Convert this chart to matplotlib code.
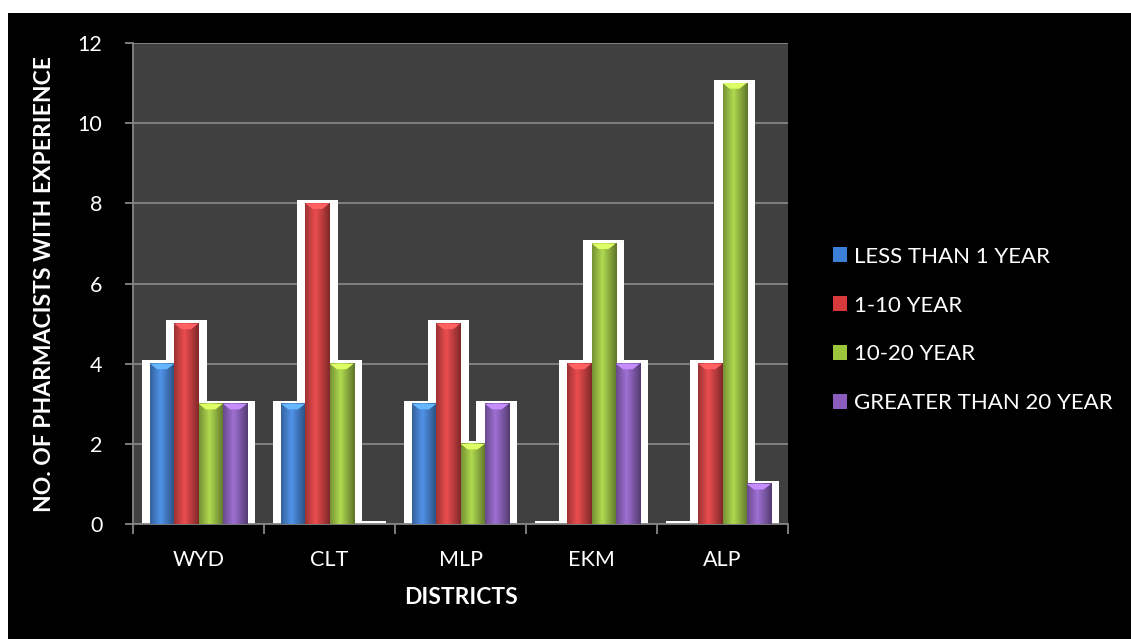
import numpy as np
import matplotlib
matplotlib.use("Agg")
import matplotlib.pyplot as plt
from matplotlib.patches import Rectangle, Polygon, Patch
from matplotlib.colors import to_rgb

districts = ["WYD", "CLT", "MLP", "EKM", "ALP"]
groups = ["LESS THAN 1 YEAR", "1-10 YEAR", "10-20 YEAR", "GREATER THAN 20 YEAR"]
less_than_1 = [4, 3, 3, 0, 0]
one_to_10 = [5, 8, 5, 4, 4]
ten_to_20 = [3, 4, 2, 7, 11]
above_20 = [3, 0, 3, 4, 1]
series = [less_than_1, one_to_10, ten_to_20, above_20]
colors = ["#3c7fd6", "#d8393b", "#9cc63c", "#8a5cbf"]

plt.rcParams["font.family"] = ["Lato", "DejaVu Sans"]

fig = plt.figure(figsize=(11.31, 6.39), dpi=100, facecolor="white")
# black panel with a thin white margin on top and left
fig.add_artist(Rectangle((8 / 1131, 0), 1, 1 - 13 / 639, transform=fig.transFigure,
                         facecolor="black", edgecolor="none", zorder=-10))

ax = fig.add_axes([133 / 1131, 1 - 524 / 639, (788 - 133) / 1131, (524 - 43) / 639])
ax.set_facecolor("#404040")

w = 0.185
pad_x = 0.065
pad_y = 0.08


def bar_image(color, n=64):
    base = np.array(to_rgb(color))
    t = np.linspace(0, 1, n)
    light = 1 - 0.45 * np.abs(t - 0.42) / 0.58
    rgb = base[None, :] * light[:, None] + 0.08 * (1 - np.abs(t - 0.42))[:, None]
    return np.clip(rgb, 0, 1)[None, :, :]


x = np.arange(len(districts))
for i, vals in enumerate(series):
    xs = x + (i - 1.5) * w
    # white backing behind each bar
    ax.bar(xs, np.array(vals) + pad_y, width=w + 2 * pad_x, color="white",
           edgecolor="none", zorder=2)
for i, (vals, col) in enumerate(zip(series, colors)):
    xs = x + (i - 1.5) * w
    img = bar_image(col)
    for xc, v in zip(xs, vals):
        if v <= 0:
            continue
        x0, x1 = xc - w / 2, xc + w / 2
        ax.imshow(img, extent=[x0, x1, 0, v], aspect="auto", zorder=3,
                  interpolation="bilinear")
        top = np.clip(np.array(to_rgb(col)) * 1.25 + 0.1, 0, 1)
        ax.add_patch(Polygon([[x0, v], [x1, v], [x1 - w * 0.3, v - 0.14], [x0 + w * 0.3, v - 0.14]],
                             closed=True, facecolor=top, edgecolor="none", zorder=4))

ax.set_xlim(-0.5, 4.5)
ax.set_ylim(0, 12)

ax.set_axisbelow(True)
ax.yaxis.grid(True, color="#858585", linewidth=1.3)
ax.set_yticks(range(0, 13, 2))
ax.set_xticks(x)
ax.set_xticklabels(districts)
ax.set_xticks(np.arange(-0.5, 5, 1), minor=True)
ax.tick_params(axis="x", which="major", length=0, pad=19, labelsize=15.5, labelcolor="white")
ax.tick_params(axis="x", which="minor", length=7, width=1.3, color="#858585", direction="out")
ax.tick_params(axis="y", length=6, width=1.3, color="#858585", pad=16, labelsize=15.5,
               labelcolor="white")

for s in ["top", "right"]:
    ax.spines[s].set_visible(False)
for s in ["left", "bottom"]:
    ax.spines[s].set_color("#858585")
    ax.spines[s].set_linewidth(1.3)

ax.set_xlabel("DISTRICTS", fontsize=16.5, fontweight="bold", color="white", labelpad=12)
ax.set_ylabel("NO. OF PHARMACISTS WITH EXPERIENCE", fontsize=16.5, fontweight="bold",
              color="white", labelpad=16)

handles = [Patch(facecolor=c, edgecolor="none") for c in colors]
fig.legend(handles, groups, loc="center left", bbox_to_anchor=(813 / 1131, 1 - 330 / 639),
           frameon=False, fontsize=16, labelcolor="white", handlelength=0.65,
           handleheight=0.65, handletextpad=0.3, labelspacing=1.3)

fig.savefig("out.png", dpi=100, facecolor=fig.get_facecolor())
